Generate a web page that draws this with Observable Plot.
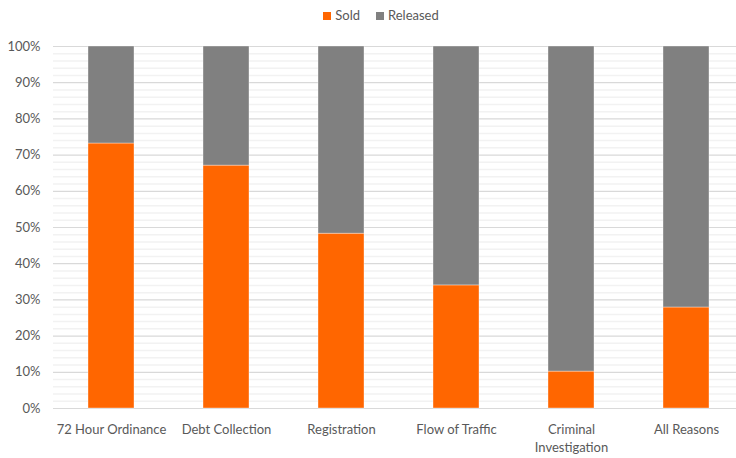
<!DOCTYPE html>
<html>
<head>
<meta charset="utf-8">
<script src="https://cdn.jsdelivr.net/npm/d3@7"></script>
<script src="https://cdn.jsdelivr.net/npm/@observablehq/plot@0.6"></script>
<style>
  body { margin: 0; background: #fff; font-family: Lato, "Open Sans", sans-serif; }
  #legend { height: 30px; display: flex; justify-content: center; align-items: center; gap: 16px; font-size: 13px; color: #595959; padding-left: 26px; box-sizing: border-box; }
  #legend span.sw { display: inline-block; width: 8px; height: 8px; margin-right: 4px; vertical-align: middle; position: relative; top: -1px; }
</style>
</head>
<body>
<div id="legend"></div>
<div id="chart"></div>
<script>
const categories = ["72 Hour Ordinance", "Debt Collection", "Registration", "Flow of Traffic", "Criminal Investigation", "All Reasons"];
const soldPct = [73.2, 67.1, 48.3, 34.0, 10.2, 27.9];
const releasedPct = soldPct.map(v => 100 - v);
const seriesNames = ["Sold", "Released"];
const seriesColors = ["#FF6600", "#808080"];
const yTicks = [0, 10, 20, 30, 40, 50, 60, 70, 80, 90, 100];
const minorTicks = d3.range(0, 101, 2).filter(v => v % 10 !== 0);

const data = [];
categories.forEach((c, i) => {
  data.push({category: c, series: "Sold", value: soldPct[i]});
  data.push({category: c, series: "Released", value: releasedPct[i]});
});

const leg = document.getElementById("legend");
seriesNames.forEach((s, i) => {
  const d = document.createElement("div");
  d.innerHTML = `<span class="sw" style="background:${seriesColors[i]}"></span>${s}`;
  leg.appendChild(d);
});

const chart = Plot.plot({
  width: 736,
  height: 428,
  marginTop: 16,
  marginBottom: 50,
  marginLeft: 53,
  marginRight: 0,
  style: {fontFamily: "Lato, 'Open Sans', sans-serif", fontSize: "13px", color: "#595959", background: "#fff"},
  x: {domain: categories, range: [53, 743], paddingInner: 0.6, paddingOuter: 0.3, label: null},
  y: {domain: [0, 100], label: null},
  color: {domain: seriesNames, range: seriesColors},
  marks: [
    Plot.ruleY(minorTicks, {stroke: "#f2f2f2", strokeWidth: 1.5}),
    Plot.ruleY(yTicks, {stroke: "#d9d9d9", strokeWidth: 1.2}),
    Plot.barY(data, {x: "category", y: "value", fill: "series", stroke: "#fff", strokeWidth: 0.6, strokeOpacity: 0.6, order: seriesNames}),
    Plot.axisY({ticks: yTicks, tickSize: 0, tickPadding: 13, tickFormat: d => d + "%", fill: "#595959", fontSize: 13}),
    Plot.axisX({tickSize: 0, tickPadding: 13, fill: "#595959", fontSize: 13, lineHeight: 1.38,
      tickFormat: d => d === "Criminal Investigation" ? "Criminal\nInvestigation" : d})
  ]
});
document.getElementById("chart").appendChild(chart);
</script>
</body>
</html>
